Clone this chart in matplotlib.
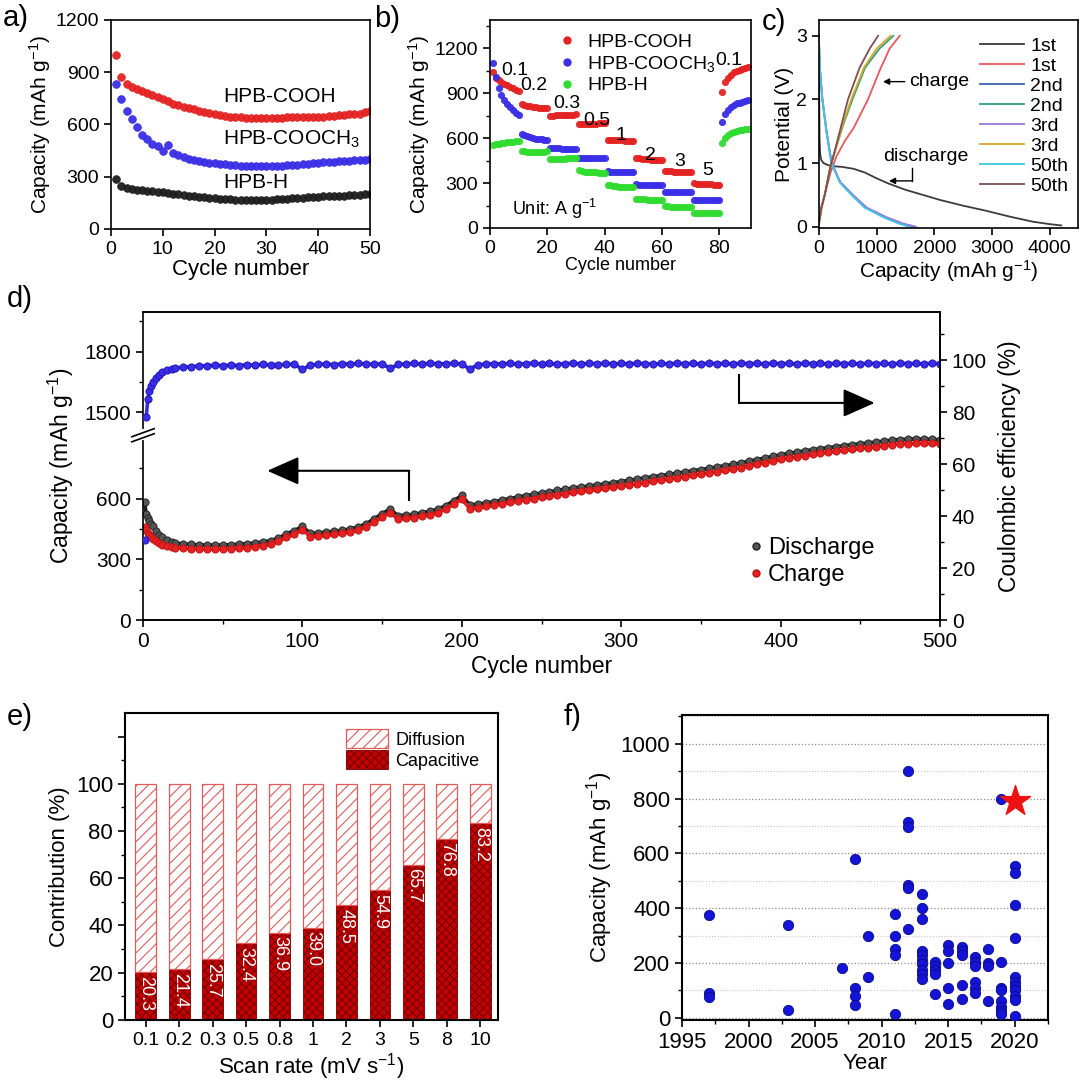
import matplotlib
matplotlib.use("Agg")
import matplotlib.pyplot as plt
from matplotlib.ticker import MultipleLocator, FixedLocator
from matplotlib.patches import Patch
from matplotlib.lines import Line2D

plt.rcParams["font.family"] = ["Liberation Sans", "DejaVu Sans"]
plt.rcParams["mathtext.fontset"] = "custom"
plt.rcParams["mathtext.rm"] = "Liberation Sans"
plt.rcParams["mathtext.it"] = "Liberation Sans:italic"
plt.rcParams["mathtext.bf"] = "Liberation Sans:bold"
plt.rcParams["axes.linewidth"] = 1.2
plt.rcParams["xtick.major.width"] = 1.2
plt.rcParams["ytick.major.width"] = 1.2
plt.rcParams["xtick.minor.width"] = 1.0
plt.rcParams["ytick.minor.width"] = 1.0
plt.rcParams["xtick.major.size"] = 5
plt.rcParams["ytick.major.size"] = 5
plt.rcParams["xtick.minor.size"] = 3
plt.rcParams["ytick.minor.size"] = 3
plt.rcParams["hatch.linewidth"] = 0.8

RED = "#e42222"
BLUE = "#3a2ee6"
GREEN = "#2fdc2f"
BLACK = "#1e1e1e"

# ---------------- panel a: cycling at 0.1 A/g ----------------
cyc_a = list(range(1, 51))
a_cooh = [1000, 875, 830, 815, 805, 792, 778, 768, 758, 745,
          732, 720, 710, 702, 695, 688, 680, 672, 665, 658,
          652, 646, 642, 640, 640, 638, 638, 637, 636, 637,
          638, 638, 639, 640, 640, 640, 641, 642, 642, 643,
          644, 646, 648, 652, 656, 660, 660, 662, 672, 680]
a_cooch3 = [835, 745, 680, 630, 585, 540, 515, 490, 475, 445,
            480, 435, 422, 412, 402, 398, 392, 386, 381, 377,
            373, 370, 367, 365, 363, 362, 362, 361, 361, 362,
            362, 363, 364, 365, 366, 368, 370, 373, 376, 380,
            382, 384, 386, 388, 390, 392, 394, 396, 398, 400]
a_h = [287, 245, 236, 230, 226, 222, 218, 215, 212, 210,
       206, 202, 198, 195, 192, 188, 185, 181, 178, 175,
       173, 171, 170, 169, 168, 168, 167, 167, 168, 168,
       169, 170, 172, 174, 176, 178, 180, 182, 184, 186,
       187, 188, 189, 190, 191, 193, 195, 196, 198, 200]

# ---------------- panel b: rate capability ----------------
cyc_b = list(range(1, 91))
b_cooh = [1040, 1005, 990, 975, 965, 955, 945, 935, 925, 915,
          830, 822, 816, 812, 808, 806, 804, 802, 800, 800,
          748, 750, 752, 753, 754, 755, 756, 757, 758, 760,
          695, 695, 696, 697, 697, 698, 698, 699, 700, 700,
          590, 588, 587, 586, 585, 585, 584, 584, 583, 583,
          468, 465, 462, 460, 458, 457, 456, 455, 455, 454,
          382, 380, 378, 377, 376, 376, 375, 375, 375, 374,
          298, 296, 294, 293, 292, 291, 291, 290, 290, 290,
          910, 975, 1005, 1025, 1040, 1050, 1058, 1065, 1070, 1075]
b_cooch3 = [1100, 1010, 935, 890, 858, 830, 808, 790, 770, 752,
            630, 620, 612, 606, 601, 597, 594, 592, 590, 588,
            535, 533, 532, 531, 530, 530, 530, 530, 530, 530,
            468, 467, 466, 466, 465, 465, 465, 465, 465, 465,
            378, 376, 375, 375, 374, 374, 374, 373, 373, 373,
            292, 290, 289, 288, 288, 287, 287, 287, 286, 286,
            242, 241, 240, 240, 240, 240, 240, 240, 239, 239,
            188, 187, 186, 186, 185, 185, 185, 185, 185, 185,
            705, 760, 790, 810, 822, 832, 838, 843, 848, 852]
b_h = [555, 560, 563, 566, 569, 572, 575, 577, 580, 583,
       515, 512, 510, 509, 508, 508, 508, 509, 510, 512,
       462, 462, 463, 463, 464, 464, 465, 465, 466, 466,
       385, 380, 377, 375, 373, 372, 371, 370, 370, 370,
       288, 284, 281, 279, 277, 276, 275, 274, 273, 273,
       195, 193, 192, 191, 190, 190, 190, 189, 189, 189,
       145, 144, 143, 142, 142, 141, 141, 141, 140, 140,
       103, 101, 100, 100, 99, 99, 99, 98, 98, 98,
       565, 600, 620, 632, 642, 648, 653, 657, 660, 662]
rate_labels = ["0.1", "0.2", "0.3", "0.5", "1", "2", "3", "5", "0.1"]
rate_label_x = [8.6, 15.3, 26.7, 37.2, 45.6, 56.1, 66.0, 76.0, 83.2]
rate_label_y = [1050, 955, 832, 720, 620, 486, 445, 381, 1122]

# ---------------- panel c: voltage profiles ----------------
c_d1_cap = [0, 5, 10, 20, 40, 80, 150, 250, 400, 600, 800, 1000, 1200, 1500,
            1800, 2100, 2500, 2900, 3300, 3700, 4000, 4200]
c_d1_v = [3.0, 1.9, 1.4, 1.15, 1.05, 1.0, 0.97, 0.95, 0.94, 0.91, 0.85, 0.76,
          0.68, 0.58, 0.5, 0.42, 0.33, 0.25, 0.16, 0.08, 0.04, 0.02]
c_c1_cap = [0, 50, 100, 200, 300, 450, 600, 850, 1050, 1225, 1400]
c_c1_v = [0.05, 0.3, 0.5, 0.85, 1.1, 1.35, 1.55, 2.0, 2.45, 2.8, 3.0]
c_d2_cap = [0, 15, 60, 130, 218, 365, 575, 810, 1140, 1430, 1650]
c_d2_v = [2.95, 2.5, 2.0, 1.5, 1.0, 0.7, 0.5, 0.3, 0.15, 0.05, 0.0]
c_c2_cap = [0, 40, 100, 200, 300, 420, 580, 800, 1050, 1290]
c_c2_v = [0.05, 0.3, 0.5, 0.95, 1.25, 1.6, 2.0, 2.5, 2.8, 3.0]
c_d3_cap = [0, 15, 60, 132, 222, 372, 590, 830, 1170, 1460, 1680]
c_d3_v = [2.95, 2.5, 2.0, 1.5, 1.0, 0.7, 0.5, 0.3, 0.15, 0.05, 0.0]
c_c3_cap = [0, 40, 100, 200, 300, 410, 560, 780, 1000, 1240]
c_c3_v = [0.05, 0.3, 0.5, 0.95, 1.25, 1.6, 2.0, 2.5, 2.8, 3.0]
c_d50_cap = [0, 15, 58, 127, 214, 358, 560, 792, 1110, 1380, 1560]
c_d50_v = [2.95, 2.5, 2.0, 1.5, 1.0, 0.7, 0.5, 0.3, 0.15, 0.05, 0.0]
c_c50_cap = [0, 40, 100, 200, 290, 390, 503, 705, 880, 1025]
c_c50_v = [0.05, 0.3, 0.5, 0.95, 1.25, 1.6, 2.0, 2.5, 2.8, 3.0]

# ---------------- panel d: long cycling ----------------
cyc_d = [1, 2, 3, 4, 5, 6, 8, 10, 12, 15, 18] + list(range(20, 501, 5))
d_dis = [585, 525, 505, 490, 475, 462, 440, 422, 408, 395, 385,
         380, 376, 373, 371, 370, 370, 370, 372, 374, 377, 380, 385, 392, 405, 425, 442,
         462, 428, 430, 434, 438, 443, 450, 460, 475, 500, 525, 548, 515, 518, 522, 530, 537, 547, 565, 590,
         615, 568, 572, 578, 584, 592, 600, 607, 614, 620, 627, 633, 640, 646, 652, 657, 662, 667, 672, 678,
         684, 690, 696, 702, 708, 713, 719, 725, 731, 737, 743, 749, 756, 762, 768, 776, 784, 792, 800, 808,
         816, 823, 829, 835, 841, 846, 851, 856, 861, 866, 870, 874, 879, 884, 888, 891, 893, 894, 893, 892,
         890]
d_chg = [460, 445, 432, 420, 410, 402, 390, 380, 372, 366, 361,
         358, 355, 352, 350, 349, 349, 350, 352, 355, 358, 362, 367, 374, 388, 408, 425,
         445, 412, 415, 419, 423, 428, 435, 445, 460, 483, 508, 530, 498, 502, 506, 513, 520, 530, 548, 572,
         597, 550, 555, 561, 567, 574, 581, 588, 594, 600, 606, 612, 618, 624, 630, 635, 640, 645, 650, 656,
         661, 667, 673, 679, 685, 690, 696, 702, 708, 714, 720, 726, 733, 739, 745, 753, 761, 769, 777, 785,
         793, 800, 806, 812, 818, 823, 828, 833, 838, 843, 847, 851, 856, 861, 866, 869, 871, 872, 872, 872,
         871]
d_ce = [31, 78, 85, 88, 90, 91.5, 93, 94.5, 95.5, 96.3, 96.8,
        97.0, 97.3, 97.6, 97.8, 97.9, 98.1, 97.9, 98.2, 98.0, 98.3, 98.1, 98.4, 98.2, 98.3, 98.4, 98.5,
        96.5, 98.2, 98.4, 98.6, 98.3, 98.7, 98.5, 98.8, 98.6, 98.4, 98.7, 96.9, 98.4, 98.6, 98.8, 98.5, 98.9, 98.6, 98.7, 98.8,
        98.6, 96.6, 98.3, 98.5, 98.7, 98.6, 98.8, 98.5, 98.7, 98.9, 98.6, 98.8, 98.5, 98.7, 98.9, 98.6, 98.8, 98.7, 98.9, 98.6,
        98.8, 98.6, 98.9, 98.7, 98.5, 98.8, 98.6, 98.9, 98.7, 98.8, 98.6, 98.9, 98.7, 98.8, 98.6, 98.9, 98.7, 98.8, 98.6, 98.9,
        98.7, 98.8, 98.6, 98.9, 98.7, 98.8, 98.6, 98.9, 98.7, 98.8, 98.6, 98.9, 98.7, 98.8, 98.6, 98.9, 98.7, 98.8, 98.6, 98.9,
        98.7]

# ---------------- panel e: capacitive contribution ----------------
scan_rates = ["0.1", "0.2", "0.3", "0.5", "0.8", "1", "2", "3", "5", "8", "10"]
capacitive = [20.3, 21.4, 25.7, 32.4, 36.9, 39.0, 48.5, 54.9, 65.7, 76.8, 83.2]
diffusion = [100 - v for v in capacitive]

# ---------------- panel f: literature comparison ----------------
lit_year = [1997, 1997, 1997,
            2003, 2003,
            2007,
            2008, 2008, 2008, 2008,
            2009, 2009,
            2011, 2011, 2011, 2011, 2011,
            2012, 2012, 2012, 2012, 2012, 2012,
            2013, 2013, 2013, 2013, 2013, 2013, 2013, 2013, 2013, 2013,
            2014, 2014, 2014, 2014, 2014,
            2015, 2015, 2015, 2015, 2015,
            2016, 2016, 2016, 2016, 2016,
            2017, 2017, 2017, 2017, 2017, 2017,
            2018, 2018, 2018, 2018,
            2019, 2019, 2019, 2019, 2019, 2019, 2019, 2019,
            2020, 2020, 2020, 2020, 2020, 2020, 2020, 2020, 2020, 2020, 2020]
lit_cap = [375, 90, 75,
           340, 30,
           180,
           580, 110, 80, 45,
           300, 150,
           380, 300, 250, 230, 15,
           900, 715, 695, 485, 475, 325,
           450, 400, 360, 245, 230, 210, 195, 175, 160, 140,
           205, 190, 175, 160, 85,
           265, 245, 200, 110, 50,
           260, 242, 228, 120, 70,
           220, 205, 188, 130, 110, 90,
           250, 200, 190, 60,
           800, 205, 110, 100, 60, 40, 25, 15,
           555, 530, 410, 290, 150, 130, 115, 100, 80, 65, 5]
this_year = [2020]
this_cap = [790]


def dots(ax, x, y, color, ms=5.5):
    ax.plot(x, y, "o", ms=ms, mfc=color, mec=color, mew=0.6, alpha=0.95,
            clip_on=True)


fig = plt.figure(figsize=(10.8, 10.83), dpi=100)

# ---- a ----
ax = fig.add_axes([0.1028, 0.7886, 0.2398, 0.1930])
dots(ax, cyc_a, a_cooh, RED)
dots(ax, cyc_a, a_cooch3, BLUE)
dots(ax, cyc_a, a_h, BLACK)
ax.set_xlim(0, 50)
ax.set_ylim(0, 1200)
ax.xaxis.set_major_locator(MultipleLocator(10))
ax.yaxis.set_major_locator(MultipleLocator(300))
ax.tick_params(labelsize=14)
ax.set_xlabel("Cycle number", fontsize=16, labelpad=1)
ax.set_ylabel("Capacity (mAh g$^{-1}$)", fontsize=15, labelpad=2)
ax.text(21.7, 760, "HPB-COOH", fontsize=15, va="center")
ax.text(21.7, 515, "HPB-COOCH$_3$", fontsize=15, va="center")
ax.text(21.7, 265, "HPB-H", fontsize=15, va="center")

# ---- b ----
ax = fig.add_axes([0.4537, 0.7895, 0.2417, 0.1921])
dots(ax, cyc_b, b_cooh, RED, ms=4.5)
dots(ax, cyc_b, b_cooch3, BLUE, ms=4.5)
dots(ax, cyc_b, b_h, GREEN, ms=4.5)
for lab, lx, ly in zip(rate_labels, rate_label_x, rate_label_y):
    ax.text(lx, ly, lab, fontsize=14, ha="center", va="center")
ax.text(7.5, 129, "Unit: A g$^{-1}$", fontsize=13, va="center")
ax.set_xlim(0, 91)
ax.set_ylim(0, 1390)
ax.xaxis.set_major_locator(MultipleLocator(20))
ax.yaxis.set_major_locator(MultipleLocator(300))
ax.yaxis.set_minor_locator(MultipleLocator(150))
ax.tick_params(labelsize=14)
ax.set_xlabel("Cycle number", fontsize=13, labelpad=0)
ax.set_ylabel("Capacity (mAh g$^{-1}$)", fontsize=15, labelpad=2)
hb = [Line2D([], [], ls="", marker="o", ms=5, mfc=c, mec=c) for c in (RED, BLUE, GREEN)]
ax.legend(hb, ["HPB-COOH", "HPB-COOCH$_3$", "HPB-H"], loc="upper left",
          bbox_to_anchor=(0.2, 1.02), frameon=False, fontsize=14,
          handlelength=0.8, handletextpad=0.6, labelspacing=0.15)

# ---- c ----
ax = fig.add_axes([0.7583, 0.7895, 0.2398, 0.1921])
c_curves = [
    (c_d1_cap, c_d1_v, "#3c3c3c", "1st"),
    (c_c1_cap, c_c1_v, "#e8585a", "1st"),
    (c_d2_cap, c_d2_v, "#3e63b8", "2nd"),
    (c_c2_cap, c_c2_v, "#2f9f78", "2nd"),
    (c_d3_cap, c_d3_v, "#9b78da", "3rd"),
    (c_c3_cap, c_c3_v, "#d2a828", "3rd"),
    (c_d50_cap, c_d50_v, "#3fc6e2", "50th"),
    (c_c50_cap, c_c50_v, "#7e4e4e", "50th"),
]
for xs, ys, col, lab in c_curves:
    ax.plot(xs, ys, color=col, lw=1.3, label=lab)
ax.set_xlim(0, 4490)
ax.set_ylim(-0.02, 3.25)
ax.xaxis.set_major_locator(MultipleLocator(1000))
ax.yaxis.set_major_locator(MultipleLocator(1))
ax.tick_params(labelsize=14)
ax.set_xlabel("Capacity (mAh g$^{-1}$)", fontsize=15, labelpad=1)
ax.set_ylabel("Potential (V)", fontsize=15, labelpad=2)
ax.legend(loc="upper right", bbox_to_anchor=(1.03, 1.0), frameon=False,
          fontsize=14, handlelength=2.3, handletextpad=0.3, labelspacing=0.12)
ax.annotate("charge", xy=(1110, 2.28), xytext=(1560, 2.28), fontsize=14,
            va="center", ha="left",
            arrowprops=dict(arrowstyle="-|>", color="k", lw=1, mutation_scale=9,
                            shrinkA=1, shrinkB=0))
ax.text(1120, 1.11, "discharge", fontsize=14, va="center", ha="left")
ax.plot([1618, 1618], [0.93, 0.72], color="k", lw=1)
ax.annotate("", xy=(1214, 0.72), xytext=(1618, 0.72),
            arrowprops=dict(arrowstyle="-|>", color="k", lw=1, mutation_scale=9,
                            shrinkA=0, shrinkB=0))

# ---- d ----
ax = fig.add_axes([0.1324, 0.4275, 0.7380, 0.2844])
ax2 = ax.twinx()
GAP = 475  # compressed range removed by the axis break
ax.plot(cyc_d, d_dis, "-", color=BLACK, lw=2.6)
ax.plot(cyc_d, d_dis, "o", ms=5.2, mfc="#555555", mec=BLACK, mew=0.6)
ax.plot(cyc_d, d_chg, "-", color=RED, lw=2.6)
ax.plot(cyc_d, d_chg, "o", ms=5.2, mfc=RED, mec="#c01010", mew=0.6)
# first cycle CE stands apart, so the connecting line starts at cycle 2
ax2.plot(cyc_d[1:], d_ce[1:], "-", color=BLUE, lw=2.6)
ax2.plot(cyc_d, d_ce, "o", ms=5.2, mfc=BLUE, mec="#1a10b0", mew=0.6)
ax.set_xlim(0, 500)
ax.set_ylim(0, 1521)
ax2.set_ylim(0, 118.6)
ax.set_yticks([0, 300, 600, 1500 - GAP, 1800 - GAP])
ax.set_yticklabels(["0", "300", "600", "1500", "1800"])
ax.yaxis.set_minor_locator(FixedLocator([150, 450, 750, 1650 - GAP, 1950 - GAP]))
ax.xaxis.set_major_locator(MultipleLocator(100))
ax.xaxis.set_minor_locator(MultipleLocator(50))
ax2.yaxis.set_major_locator(MultipleLocator(20))
ax2.yaxis.set_minor_locator(MultipleLocator(10))
ax.tick_params(labelsize=15)
ax2.tick_params(labelsize=15)
ax.set_xlabel("Cycle number", fontsize=16.5, labelpad=3)
ax.set_ylabel("Capacity (mAh g$^{-1}$)", fontsize=16.5, labelpad=6)
ax2.set_ylabel("Coulombic efficiency (%)", fontsize=16.5, labelpad=8)
ax2.spines["left"].set_visible(False)
ytr = ax.get_yaxis_transform()
ax.plot([0, 0], [898, 932], color="white", lw=3, transform=ytr, clip_on=False, zorder=6)
ax.plot([-0.014, 0.014], [880, 920], color="k", lw=1.2, transform=ytr, clip_on=False, zorder=7)
ax.plot([-0.014, 0.014], [905, 945], color="k", lw=1.2, transform=ytr, clip_on=False, zorder=7)
ax.plot([167, 167], [592, 737], color="k", lw=1.5)
ax.annotate("", xy=(78, 737), xytext=(167, 737),
            arrowprops=dict(arrowstyle="-|>,head_length=0.9,head_width=0.4",
                            color="k", lw=1.5, mutation_scale=22, shrinkA=0, shrinkB=0))
ax2.plot([374, 374], [94.2, 83.6], color="k", lw=1.5)
ax2.annotate("", xy=(459, 83.6), xytext=(374, 83.6),
             arrowprops=dict(arrowstyle="-|>,head_length=0.9,head_width=0.4",
                             color="k", lw=1.5, mutation_scale=22, shrinkA=0, shrinkB=0))
hd = [Line2D([], [], ls="", marker="o", ms=5, mfc="#555555", mec=BLACK),
      Line2D([], [], ls="", marker="o", ms=5, mfc=RED, mec="#c01010")]
ax2.legend(hd, ["Discharge", "Charge"], loc="center left",
           bbox_to_anchor=(0.735, 0.19), frameon=False, fontsize=17,
           handlelength=0.5, handletextpad=0.25, labelspacing=0.2)

# ---- e ----
ax = fig.add_axes([0.1157, 0.0582, 0.3454, 0.2835])
xpos = list(range(len(scan_rates)))
ax.bar(xpos, capacitive, width=0.62, color="#c40000", edgecolor="#7a0000",
       hatch="xxxx", lw=0.6, label="Capacitive")
ax.bar(xpos, diffusion, width=0.62, bottom=capacitive, color="white",
       edgecolor="#e25a5a", hatch="///", lw=0.9, label="Diffusion")
for xi, v in zip(xpos, capacitive):
    ax.text(xi, v - 1.5, f"{v:.1f}", rotation=270, ha="center", va="top",
            color="white", fontsize=13)
ax.set_xlim(-0.62, 10.53)
ax.set_ylim(0, 130)
ax.set_xticks(xpos)
ax.set_xticklabels(scan_rates)
ax.set_yticks([0, 20, 40, 60, 80, 100, 120])
ax.set_yticklabels(["0", "20", "40", "60", "80", "100", ""])
ax.yaxis.set_minor_locator(FixedLocator([10, 30, 50, 70, 90, 110]))
ax.tick_params(axis="x", labelsize=14)
ax.tick_params(axis="y", labelsize=16)
for s in ax.spines.values():
    s.set_linewidth(1.5)
ax.set_xlabel("Scan rate (mV s$^{-1}$)", fontsize=16, labelpad=2)
ax.set_ylabel("Contribution (%)", fontsize=16, labelpad=4)
he = [Patch(facecolor="white", edgecolor="#e25a5a", hatch="///", lw=0.9),
      Patch(facecolor="#c40000", edgecolor="#7a0000", hatch="xxxx", lw=0.6)]
ax.legend(he, ["Diffusion", "Capacitive"], loc="upper left",
          bbox_to_anchor=(0.55, 1.0), frameon=False, fontsize=13,
          handlelength=2.3, handleheight=1.2, handletextpad=0.4, labelspacing=0.1)

# ---- f ----
ax = fig.add_axes([0.6315, 0.0582, 0.3389, 0.2816])
ax.set_axisbelow(True)
ax.yaxis.set_major_locator(MultipleLocator(200))
ax.yaxis.set_minor_locator(MultipleLocator(100))
ax.xaxis.set_major_locator(MultipleLocator(5))
ax.xaxis.set_minor_locator(MultipleLocator(2.5))
ax.grid(axis="y", which="major", ls=":", lw=0.9, color="#8c8c8c")
ax.grid(axis="y", which="minor", ls=":", lw=0.8, color="#c8c8c8")
ax.scatter(lit_year, lit_cap, s=55, c="#1414d8", edgecolors="#0a0a80",
           linewidths=0.6, zorder=3)
ax.scatter(this_year, this_cap, s=520, marker="*", c="#ee1111",
           edgecolors="#ee1111", zorder=4)
ax.set_xlim(1995, 2022.5)
ax.set_ylim(-8, 1105)
ax.tick_params(labelsize=16)
for s in ax.spines.values():
    s.set_linewidth(1.5)
ax.set_xlabel("Year", fontsize=16, labelpad=0)
ax.set_ylabel("Capacity (mAh g$^{-1}$)", fontsize=16, labelpad=4)

# panel letters
for lab, px, py in [("a)", 0.003, 0.996), ("b)", 0.346, 0.995), ("c)", 0.705, 0.993),
                    ("d)", 0.006, 0.737), ("e)", 0.006, 0.351), ("f)", 0.522, 0.351)]:
    fig.text(px, py, lab, fontsize=21, va="top", ha="left")

fig.savefig("out.png", dpi=100)
